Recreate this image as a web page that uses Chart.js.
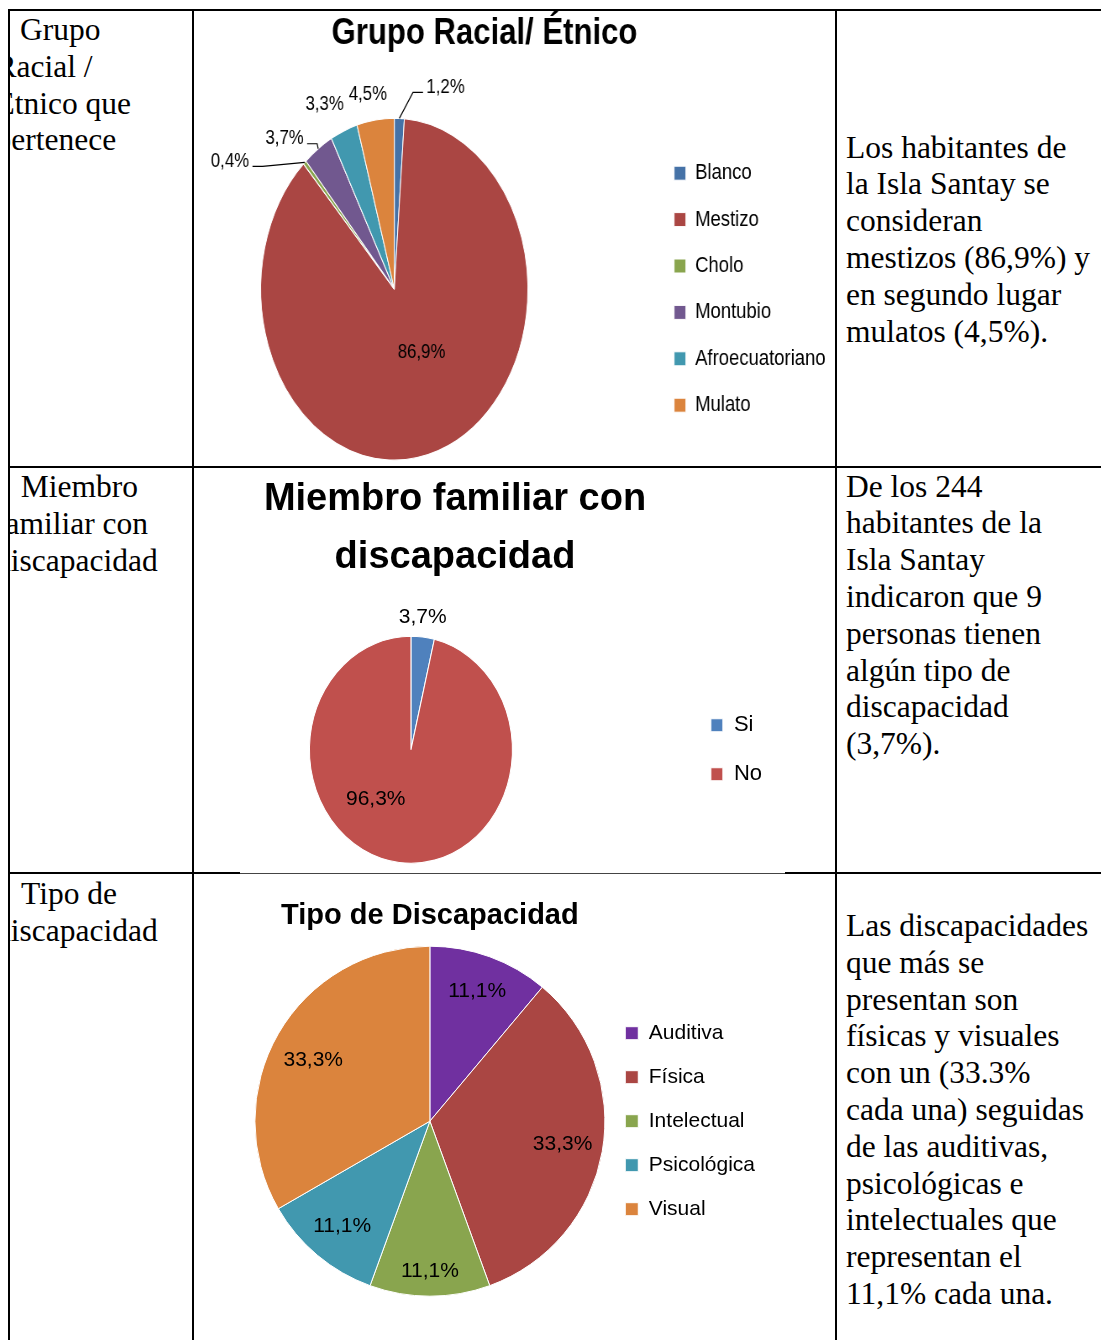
<!DOCTYPE html>
<html lang="es">
<head>
<meta charset="utf-8">
<title>Isla Santay - grupo racial y discapacidad</title>
<script src="https://cdn.jsdelivr.net/npm/chart.js@4.4.1/dist/chart.umd.min.js"></script>
<style>
  html, body { margin: 0; padding: 0; background: #fff; }
  #page { position: relative; width: 1101px; height: 1340px; overflow: hidden; }
  .txt {
    position: absolute;
    font-family: "Liberation Serif", "Times New Roman", serif;
    font-size: 31.5px;
    line-height: 36.8px;
    white-space: nowrap;
    color: #000;
  }
  .clip { position: absolute; left: 10px; top: 0; width: 182px; height: 1340px; overflow: hidden; }
  canvas { position: absolute; }
  .ln { position: absolute; background: #000; }
</style>
</head>
<body>
<div id="page">
  <!-- columna izquierda (texto recortado por el borde) -->
  <div class="clip">
    <div class="txt" style="left:-14.5px;top:12px;text-indent:24.5px">Grupo<br>Racial /<br>Étnico que<br>pertenece</div>
    <div class="txt" style="left:-15px;top:469px;text-indent:25.7px">Miembro<br>familiar con<br>discapacidad</div>
    <div class="txt" style="left:-15px;top:876px;text-indent:26px">Tipo de<br>discapacidad</div>
  </div>

  <!-- columna derecha -->
  <div class="txt" style="left:846px;top:129.6px">Los habitantes de<br>la Isla Santay se<br>consideran<br>mestizos (86,9%) y<br>en segundo lugar<br>mulatos (4,5%).</div>
  <div class="txt" style="left:846px;top:468.6px">De los 244<br>habitantes de la<br>Isla Santay<br>indicaron que 9<br>personas tienen<br>algún tipo de<br>discapacidad<br>(3,7%).</div>
  <div class="txt" style="left:846px;top:908px">Las discapacidades<br>que más se<br>presentan son<br>físicas y visuales<br>con un (33.3%<br>cada una) seguidas<br>de las auditivas,<br>psicológicas e<br>intelectuales que<br>representan el<br>11,1% cada una.</div>

  <!-- gráficos -->
  <canvas id="etniaChart" width="832" height="522" style="left:135px;top:0;width:698.88px;height:522px"></canvas>
  <canvas id="miembroChart" width="634" height="445" style="left:138px;top:468px;width:634px;height:445px"></canvas>
  <canvas id="tipoChart" width="515" height="433" style="left:250px;top:876px;width:515px;height:433px"></canvas>

  <!-- líneas de la tabla -->
  <div class="ln" style="left:8px;top:9px;width:1093px;height:2px"></div>
  <div class="ln" style="left:8px;top:9px;width:2px;height:1331px"></div>
  <div class="ln" style="left:192px;top:9px;width:2px;height:1331px"></div>
  <div class="ln" style="left:835px;top:9px;width:2px;height:1331px"></div>
  <div class="ln" style="left:8px;top:466px;width:1093px;height:2px"></div>
  <div class="ln" style="left:8px;top:872px;width:232px;height:2px"></div>
  <div class="ln" style="left:240px;top:873px;width:545px;height:1px;background:#444"></div>
  <div class="ln" style="left:785px;top:872px;width:316px;height:2px"></div>
</div>

<script>
// ---------- datos ----------
const etniaLabels = ["Blanco", "Mestizo", "Cholo", "Montubio", "Afroecuatoriano", "Mulato"];
const etniaValues = [1.2, 86.9, 0.4, 3.7, 3.3, 4.5];
const etniaColors = ["#4572A7", "#AA4643", "#89A54E", "#71588F", "#4198AF", "#DB843D"];

const miembroLabels = ["Si", "No"];
const miembroValues = [3.7, 96.3];
const miembroColors = ["#4F81BD", "#C0504D"];

const tipoLabels = ["Auditiva", "Física", "Intelectual", "Psicológica", "Visual"];
const tipoValues = [11.1, 33.3, 11.1, 11.1, 33.3];
const tipoColors = ["#7030A0", "#AA4643", "#89A54E", "#4198AF", "#DB843D"];

// ubicación de etiquetas: r = fracción del radio en el ángulo medio, dx/dy = corrimiento, line = línea guía
const etniaLabelPos = [
  { r: 1, dx: 55, dy: -31, line: true },
  { r: 0.39, dx: 12, dy: 0 },
  { r: 1, dx: -89, dy: -1, line: true },
  { r: 1, dx: -40, dy: -10, line: true },
  { r: 1, dx: -23, dy: -26 },
  { r: 1, dx: -9, dy: -25 }
];
const miembroLabelPos = [
  { r: 1, dx: 0, dy: -20 },
  { r: 0.44, dx: -30, dy: 0 }
];
const tipoLabelPos = [
  { r: 0.79 }, { r: 0.77 }, { r: 0.86 }, { r: 0.78 }, { r: 0.75, dx: -3, dy: 5 }
];

Chart.defaults.font.family = "'Liberation Sans', Arial, sans-serif";
Chart.defaults.color = "#000";

// estira el pastel en vertical (los gráficos originales son elipses)
const ellipse = {
  id: "ellipse",
  beforeDatasetsDraw(chart, args, opts) {
    const arc = chart.getDatasetMeta(0).data[0];
    const ctx = chart.ctx;
    ctx.save();
    ctx.translate(arc.x, arc.y);
    ctx.scale(1, opts.sy || 1);
    ctx.translate(-arc.x, -arc.y);
  },
  afterDatasetsDraw(chart) {
    chart.ctx.restore();
  }
};

// porcentajes sobre cada porción
const sliceLabels = {
  id: "sliceLabels",
  afterDraw(chart, args, opts) {
    const ctx = chart.ctx;
    const meta = chart.getDatasetMeta(0);
    const values = chart.data.datasets[0].data;
    const sy = chart.options.plugins.ellipse.sy || 1;
    ctx.save();
    ctx.font = opts.size + "px 'Liberation Sans', Arial, sans-serif";
    ctx.fillStyle = "#000";
    ctx.strokeStyle = "#000";
    ctx.lineWidth = 1.2;
    ctx.textAlign = "center";
    ctx.textBaseline = "middle";
    meta.data.forEach((arc, i) => {
      const p = opts.pos[i];
      const a = (arc.startAngle + arc.endAngle) / 2;
      const R = arc.outerRadius;
      const ex = arc.x + R * Math.cos(a);
      const ey = arc.y + R * Math.sin(a) * sy;
      const x = arc.x + p.r * R * Math.cos(a) + (p.dx || 0);
      const y = arc.y + p.r * R * Math.sin(a) * sy + (p.dy || 0);
      const text = values[i].toFixed(1).replace(".", ",") + "%";
      if (p.line) {
        const hw = ctx.measureText(text).width / 2;
        const side = x > ex ? -1 : 1;
        const ax = x + side * (hw + 4);
        const ay = y + 5;
        ctx.beginPath();
        ctx.moveTo(ex, ey);
        ctx.lineTo(ax + side * 12, ay);
        ctx.lineTo(ax, ay);
        ctx.stroke();
      }
      ctx.fillText(text, x, y);
    });
    ctx.restore();
  }
};

function makePie(id, labels, values, colors, o) {
  return new Chart(document.getElementById(id), {
    type: "pie",
    data: {
      labels: labels,
      datasets: [{ data: values, backgroundColor: colors, borderColor: "#fff", borderWidth: 1 }]
    },
    options: {
      responsive: false,
      animation: false,
      radius: o.radius,
      layout: { padding: o.padding },
      plugins: {
        title: {
          display: true,
          text: o.title,
          fullSize: o.titleFull,
          color: "#000",
          padding: 0,
          font: { size: o.titleSize, weight: "bold", lineHeight: o.titleLine }
        },
        legend: {
          position: "right",
          fullSize: false,
          labels: {
            color: "#000",
            font: { size: o.legendSize },
            boxWidth: o.boxW,
            boxHeight: o.boxH,
            padding: o.legendGap
          }
        },
        tooltip: { enabled: false },
        ellipse: { sy: o.sy },
        sliceLabels: { size: o.labelSize, pos: o.labelPos }
      }
    },
    plugins: [ellipse, sliceLabels]
  });
}

// ---------- Grupo Racial/ Étnico ----------
makePie("etniaChart", etniaLabels, etniaValues, etniaColors, {
  radius: 159, sy: 1.075,
  padding: { top: 12, left: 0, right: 0, bottom: 0 },
  title: "Grupo Racial/ Étnico", titleFull: true, titleSize: 37, titleLine: 1.2,
  legendSize: 22, boxW: 14, boxH: 14, legendGap: 24.4,
  labelSize: 20, labelPos: etniaLabelPos
});

// ---------- Miembro familiar con discapacidad ----------
makePie("miembroChart", miembroLabels, miembroValues, miembroColors, {
  radius: 101.5, sy: 1.118,
  padding: { top: 2.5, left: 0, right: 0, bottom: 0 },
  title: ["Miembro familiar con", "discapacidad"], titleFull: true, titleSize: 38, titleLine: 1.5263,
  legendSize: 22, boxW: 12, boxH: 13, legendGap: 27,
  labelSize: 21, labelPos: miembroLabelPos
});

// ---------- Tipo de Discapacidad ----------
makePie("tipoChart", tipoLabels, tipoValues, tipoColors, {
  radius: 175, sy: 1,
  padding: { top: 22.6, left: 7.5, right: 0, bottom: 0 },
  title: "Tipo de Discapacidad", titleFull: false, titleSize: 29, titleLine: 1.2,
  legendSize: 21, boxW: 13, boxH: 13, legendGap: 23,
  labelSize: 21, labelPos: tipoLabelPos
});
</script>
</body>
</html>
